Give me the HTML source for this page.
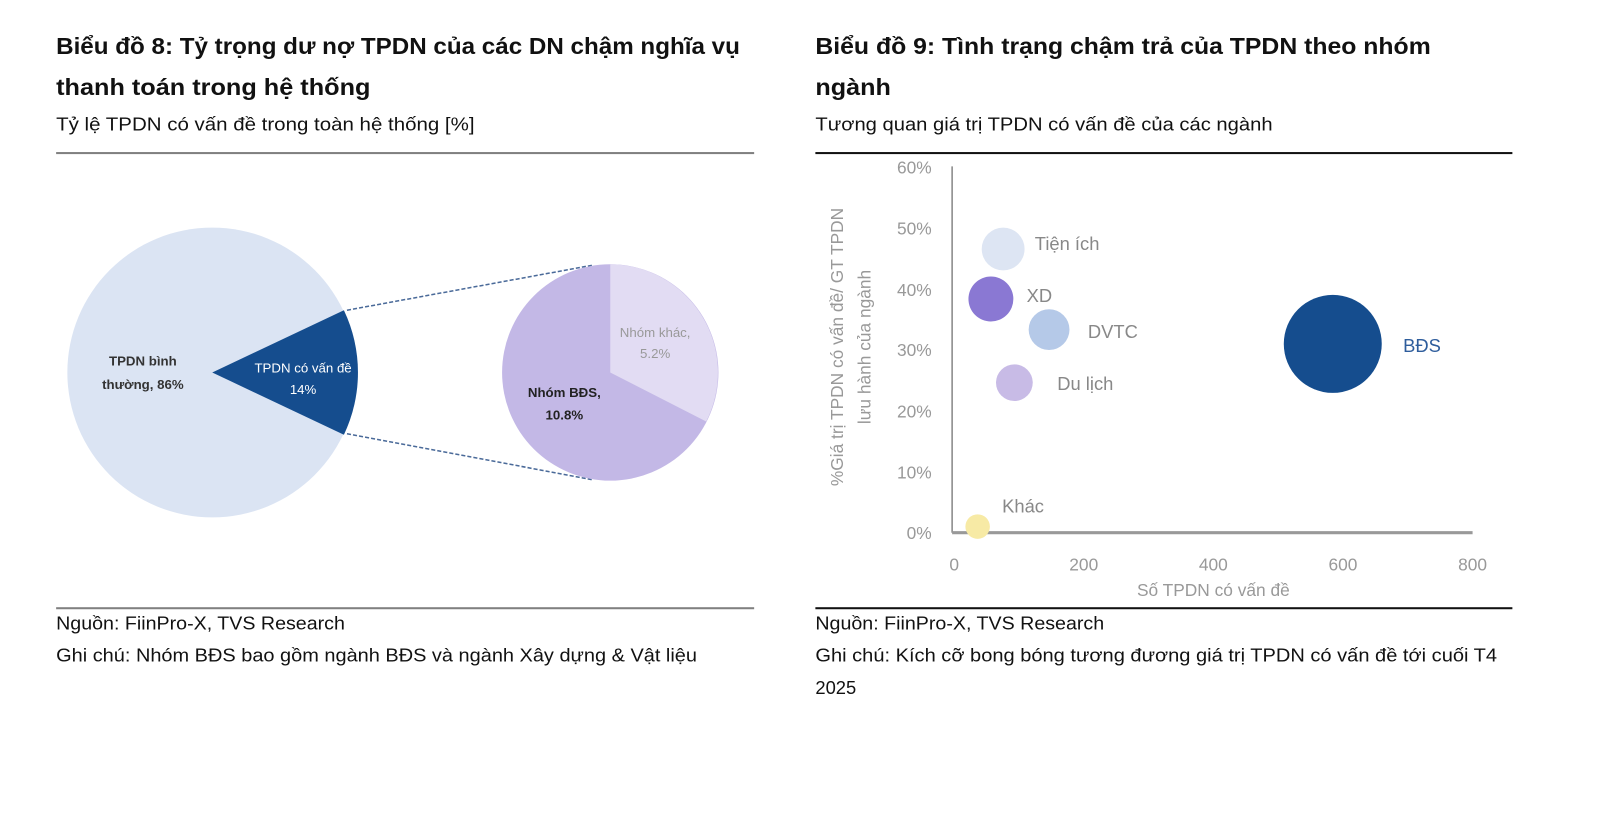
<!DOCTYPE html>
<html><head><meta charset="utf-8"><style>
html,body{margin:0;padding:0;background:#fff;width:1600px;height:815px;overflow:hidden}
svg{display:block;font-family:"Liberation Sans","DejaVu Sans",sans-serif}
</style></head><body>
<svg width="1600" height="815" viewBox="0 0 1600 815" xmlns="http://www.w3.org/2000/svg">
<g transform="scale(1.0205)">
<!-- LEFT -->
<g fill="#111">
<text x="55" y="53" font-size="23" font-weight="bold" textLength="670" lengthAdjust="spacingAndGlyphs">Biểu đồ 8: Tỷ trọng dư nợ TPDN của các DN chậm nghĩa vụ</text>
<text x="55" y="93" font-size="23" font-weight="bold" textLength="308" lengthAdjust="spacingAndGlyphs">thanh toán trong hệ thống</text>
<text x="55" y="128" font-size="18" textLength="410" lengthAdjust="spacingAndGlyphs">Tỷ lệ TPDN có vấn đề trong toàn hệ thống [%]</text>
</g>
<rect x="55" y="149" width="684" height="2" fill="#808080"/>
<circle cx="208" cy="365" r="142" fill="#dbe4f3"/>
<path d="M208,365 L337,304 A142,142 0 0 1 337,426 Z" fill="#154d8e"/>
<text x="140" y="358" font-size="13" font-weight="bold" fill="#333" text-anchor="middle">TPDN bình</text>
<text x="140" y="381" font-size="13" font-weight="bold" fill="#333" text-anchor="middle">thường, 86%</text>
<text x="297" y="365" font-size="13" fill="#fff" text-anchor="middle">TPDN có vấn đề</text>
<text x="297" y="386" font-size="13" fill="#fff" text-anchor="middle">14%</text>
<line x1="340" y1="304" x2="580" y2="260" stroke="#4a6a99" stroke-width="1.5" stroke-dasharray="4,2"/>
<line x1="340" y1="425" x2="580" y2="470" stroke="#4a6a99" stroke-width="1.5" stroke-dasharray="4,2"/>
<circle cx="598" cy="365" r="106" fill="#c3b8e6"/>
<path d="M598,365 L598,259 A106,106 0 0 1 692,413 Z" fill="#e2dcf3"/>
<text x="642" y="330" font-size="13" fill="#999" text-anchor="middle">Nhóm khác,</text>
<text x="642" y="351" font-size="13" fill="#999" text-anchor="middle">5.2%</text>
<text x="553" y="389" font-size="13" font-weight="bold" fill="#222" text-anchor="middle">Nhóm BĐS,</text>
<text x="553" y="411" font-size="13" font-weight="bold" fill="#222" text-anchor="middle">10.8%</text>
<rect x="55" y="595" width="684" height="2" fill="#808080"/>
<text x="55" y="617" font-size="18" fill="#111" textLength="283" lengthAdjust="spacingAndGlyphs">Nguồn: FiinPro-X, TVS Research</text>
<text x="55" y="648" font-size="18" fill="#111" textLength="628" lengthAdjust="spacingAndGlyphs">Ghi chú: Nhóm BĐS bao gồm ngành BĐS và ngành Xây dựng &amp; Vật liệu</text>

<!-- RIGHT -->
<g fill="#111">
<text x="799" y="53" font-size="23" font-weight="bold" textLength="603" lengthAdjust="spacingAndGlyphs">Biểu đồ 9: Tình trạng chậm trả của TPDN theo nhóm</text>
<text x="799" y="93" font-size="23" font-weight="bold" textLength="74" lengthAdjust="spacingAndGlyphs">ngành</text>
<text x="799" y="128" font-size="18" textLength="448" lengthAdjust="spacingAndGlyphs">Tương quan giá trị TPDN có vấn đề của các ngành</text>
</g>
<rect x="799" y="149" width="683" height="2" fill="#111"/>
<g font-size="17" fill="#999" text-anchor="end">
<text x="913" y="170">60%</text><text x="913" y="230">50%</text><text x="913" y="290">40%</text>
<text x="913" y="349">30%</text><text x="913" y="409">20%</text><text x="913" y="469">10%</text><text x="913" y="528">0%</text>
</g>
<g font-size="17" fill="#999" text-anchor="middle">
<text x="935" y="559">0</text><text x="1062" y="559">200</text><text x="1189" y="559">400</text><text x="1316" y="559">600</text><text x="1443" y="559">800</text>
<text x="1189" y="584">Số TPDN có vấn đề</text>
</g>
<g font-size="17" fill="#999" text-anchor="middle">
<text transform="translate(826,340) rotate(-90)">%Giá trị TPDN có vấn đề/ GT TPDN</text>
<text transform="translate(853,340) rotate(-90)">lưu hành của ngành</text>
</g>
<line x1="933" y1="163" x2="933" y2="522" stroke="#888" stroke-width="1.5"/>
<line x1="933" y1="522" x2="1443" y2="522" stroke="#999" stroke-width="3"/>
<circle cx="983" cy="244" r="21" fill="#dde5f3"/>
<circle cx="971" cy="293" r="22" fill="#8a78d3"/>
<circle cx="1028" cy="323" r="20" fill="#b5c9e8"/>
<circle cx="994" cy="375" r="18" fill="#c8bbe6"/>
<circle cx="958" cy="516" r="12" fill="#f7eaa5"/>
<circle cx="1306" cy="337" r="48" fill="#154d8e"/>
<g font-size="18" fill="#888">
<text x="1014" y="245">Tiện ích</text>
<text x="1006" y="296">XD</text>
<text x="1066" y="331">DVTC</text>
<text x="1036" y="382">Du lịch</text>
<text x="982" y="502">Khác</text>
</g>
<text x="1375" y="345" font-size="18" fill="#2e5d9c">BĐS</text>
<rect x="799" y="595" width="683" height="2" fill="#111"/>
<text x="799" y="617" font-size="18" fill="#111" textLength="283" lengthAdjust="spacingAndGlyphs">Nguồn: FiinPro-X, TVS Research</text>
<text x="799" y="648" font-size="18" fill="#111" textLength="668" lengthAdjust="spacingAndGlyphs">Ghi chú: Kích cỡ bong bóng tương đương giá trị TPDN có vấn đề tới cuối T4</text>
<text x="799" y="680" font-size="18" fill="#111">2025</text>
</g>
</svg>
</body></html>
